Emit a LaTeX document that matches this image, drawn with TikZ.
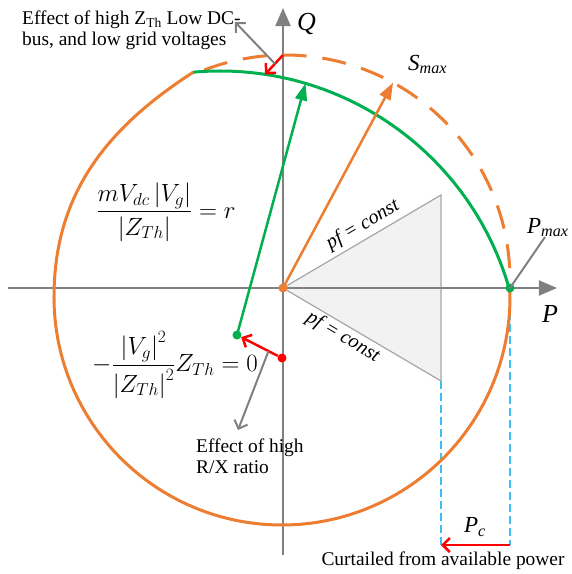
\documentclass[tikz,border=0pt]{standalone}
\usepackage{amsmath}
\usepackage{fontspec}
\setmainfont{Liberation Serif}
\usetikzlibrary{arrows.meta,calc}

\definecolor{pqorange}{HTML}{ED7D31}
\definecolor{pqgreen}{HTML}{00B050}
\definecolor{pqred}{HTML}{FF0000}
\definecolor{axisgray}{HTML}{808080}
\definecolor{sectorgray}{HTML}{F2F2F2}
\definecolor{edgegray}{HTML}{A6A6A6}
\definecolor{guideblue}{HTML}{40BEF2}

\begin{document}
\begin{tikzpicture}[x=1pt, y=1pt,
    axis/.style={draw=axisgray, line width=2pt, -{Triangle[length=18pt,width=15pt]}},
    limitcurve/.style={draw=pqorange, line width=3pt},
    greenarc/.style={draw=pqgreen, line width=3pt},
    phasor/.style={line width=2.5pt, -{Triangle[length=17pt,width=12pt]}},
    redarrow/.style={draw=pqred, line width=2.5pt, -{Straight Barb[length=7pt,width=14pt]}},
    grayarrow/.style={draw=axisgray, line width=2pt, -{Straight Barb[length=7pt,width=14pt]}},
    guide/.style={draw=guideblue, line width=1.5pt, dash pattern=on 8pt off 4pt},
    sector/.style={fill=sectorgray, draw=edgegray, line width=1.2pt},
    bullet/.style={circle, inner sep=0pt, minimum size=9pt},
    txt/.style={font=\fontsize{19.4}{21}\selectfont, inner sep=0pt, align=left},
    sym/.style={font=\fontsize{23}{26}\selectfont\itshape, inner sep=0pt},
    eq/.style={font=\fontsize{24}{28}\selectfont, inner sep=0pt}
]
\useasboundingbox (-283,-286) rectangle (289,288);

% pf = const sector
\coordinate (O) at (0,0);
\coordinate (T1) at (158,93);
\coordinate (T2) at (158,-93);
\filldraw[sector] (O) -- (T1) -- (T2) -- cycle;

% Axes
\coordinate (pl) at (-275,0);
\coordinate (pr) at (274,0);
\coordinate (qb) at (0,-267);
\coordinate (qt) at (0,280);
\draw[axis] (pl) -- (pr);
\draw[axis] (qb) -- (qt);

% Curtailment guides
\coordinate (Pmax) at (227,0);
\coordinate (c1) at (158,-257);
\coordinate (c2) at (227,-257);
\draw[guide] (T2) -- (c1);
\draw[guide] (Pmax) -- (c2);

% Smax circle
\coordinate (sc) at (2,8);
\draw[limitcurve, dash pattern=on 24pt off 16pt]
    ($(sc)+(111:225)$) arc[start angle=111, end angle=-3.3, radius=225];

% Operating limit
\coordinate (lc) at (-1,-9);
\coordinate (gc) at (-63,-84);
\coordinate (J) at ($(gc)+(95.1:301)$);
\draw[limitcurve] (J) .. controls (-176.4,159.9) and (-229,94) .. (-229,-9)
    arc[start angle=180, end angle=362.25, radius=228];
\draw[greenarc] (J) arc[start angle=95.1, end angle=16.1, radius=301];

% Phasors
\node[bullet, fill=pqgreen] (g) at (-46,-47) {};
\coordinate (gt) at ($(gc)+(73.5:301)$);
\coordinate (st) at ($(sc)+(61.3:225)$);
\draw[phasor, draw=pqgreen, fill=pqgreen] (g.center) -- (gt);
\draw[phasor, draw=pqorange, fill=pqorange] (O) -- (st);
\node[bullet, fill=pqorange] (o) at (O) {};

% R/X effect
\node[bullet, fill=pqred] (r) at (-1,-70) {};
\draw[redarrow] (r) -- (g);
\coordinate (rx) at ($(r)!0.3!(g)$);
\coordinate (rxt) at (-45,-142);
\draw[grayarrow] (rx) -- (rxt);
\node[txt, anchor=north west] (rxtxt) at (-87,-151) {Effect of high\\R/X ratio};

% ZTh effect
\coordinate (za) at ($(sc)+(90.5:225)$);
\coordinate (zb) at ($(gc)+(81.4:301)$);
\draw[redarrow] (za) -- (zb);
\coordinate (zn) at ($(za)!0.45!(zb)$);
\coordinate (zt) at (-48,266);
\draw[grayarrow] (zn) -- (zt);
\node[txt, anchor=north west] (zthtxt) at (-261,277)
    {Effect of high Z\textsubscript{Th} Low DC-\\bus, and low grid voltages};

% Pmax
\node[bullet, fill=pqgreen] (pmx) at (Pmax) {};
\coordinate (pm) at (262,51);
\draw[draw=axisgray, line width=2pt] (pmx.center) -- (pm);
\node[sym, anchor=base west] (pmaxlbl) at (244,55) {P\textsubscript{max}};

% Curtailment
\draw[redarrow] (c2) -- (c1);
\node[sym, anchor=center] (pc) at (192,-239) {P\textsubscript{c}};
\node[txt, anchor=base] (curt) at (160,-277) {Curtailed from available power};

% Labels
\node[sym, anchor=base west] (smax) at (125,218) {S\textsubscript{max}};
\node[sym, font=\fontsize{26}{28}\selectfont\itshape, anchor=base west] (qlbl) at (14,258) {Q};
\node[sym, font=\fontsize{26}{28}\selectfont\itshape, anchor=base west] (plbl) at (259,-34) {P};
\node[txt, font=\fontsize{20}{22}\selectfont\itshape, rotate=30.5] (pf1) at (80,63) {pf = const};
\node[txt, font=\fontsize{20}{22}\selectfont\itshape, rotate=-30.5] (pf2) at (60,-49) {pf = const};

% Equations
\node[eq] (eqr) at (-117,76) {$\dfrac{mV_{dc}\left|V_g\right|}{\left|Z_{Th}\right|}=r$};
\node[eq] (eqz) at (-108,-77) {$-\dfrac{\left|V_g\right|^2}{\left|Z_{Th}\right|^2}Z_{Th}=0$};

\end{tikzpicture}
\end{document}
